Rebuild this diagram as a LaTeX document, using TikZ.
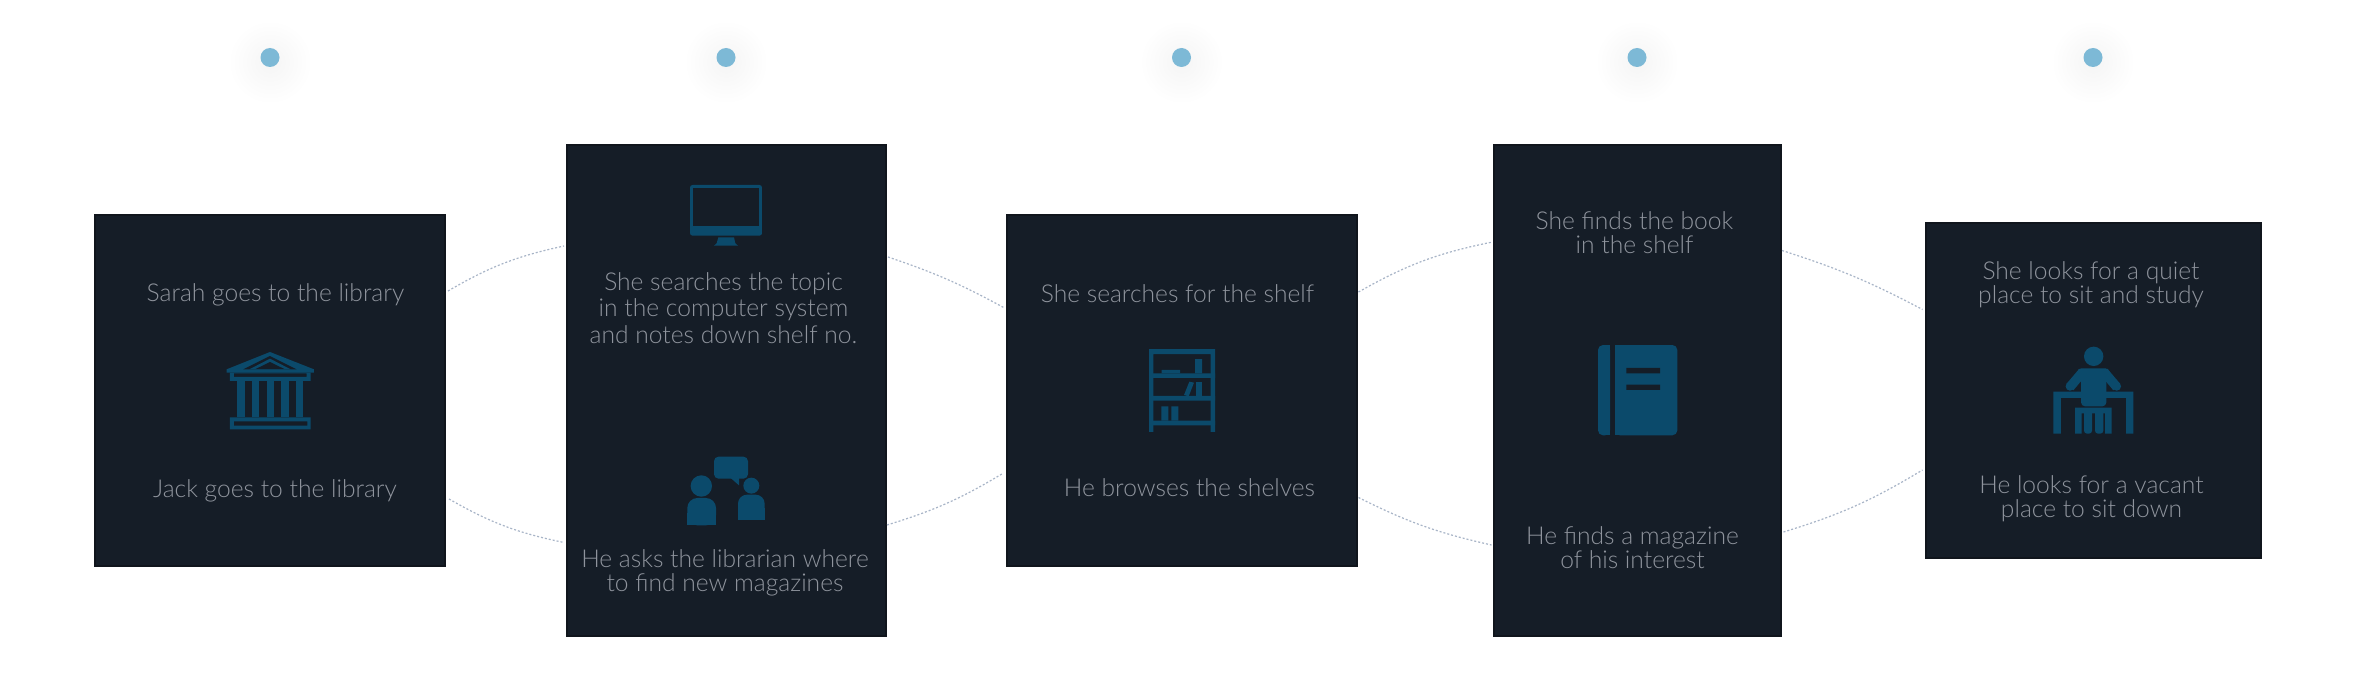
\documentclass[tikz,border=0pt]{standalone}
\usepackage{fontspec}
\setmainfont{Lato Light}
\definecolor{boxfill}{HTML}{151D27}
\definecolor{boxedge}{HTML}{10151C}
\definecolor{icon}{HTML}{0B4A6B}
\definecolor{dotc}{HTML}{7DB9D6}
\definecolor{linkc}{HTML}{A8B5C7}
\definecolor{txt}{HTML}{8F949D}
\tikzset{
  panel/.style={draw=boxedge,line width=2pt,fill=boxfill,inner sep=0pt,outer sep=1pt,rectangle},
  lbl/.style={text=txt,align=center,inner sep=0pt,font=\fontsize{24.6}{24}\selectfont},
  lblb/.style={text=txt,align=center,inner sep=0pt,font=\fontsize{24.6}{26.5}\selectfont},
  link/.style={draw=linkc,line width=1.2pt,dash pattern=on 2pt off 2pt},
  glow/.style={inner color=black!4,outer color=white,draw=none},
  dotn/.style={circle,fill=dotc,draw=none,minimum size=19pt,inner sep=0pt},
  zoomed/.style={x=0.3333pt,y=-0.3333pt},
}
\newcommand{\panelbox}[5]{\node[panel,minimum width=#4-#2-2pt,minimum height=#5-#3-2pt] (#1) at ({(#2+#4)/2},{(#3+#5)/2}) {};}
\begin{document}
\begin{tikzpicture}[x=1pt,y=-1pt]
\useasboundingbox (0,0) rectangle (2363,674);
\fill[white] (0,0) rectangle (2363,674);
% glow + dots
\foreach \n/\cx in {d1/270,d2/726,d3/1181.5,d4/1637,d5/2093}{
  \shade[glow] (\cx,62) circle (42pt);
  \node[dotn] (\n) at (\cx,57.5) {};
}
% panels
\panelbox{b1}{94}{214}{446}{567}
\panelbox{b2}{566}{144}{887}{637}
\panelbox{b3}{1005.5}{214}{1358}{567}
\panelbox{b4}{1493}{144}{1782}{637}
\panelbox{b5}{1925}{222}{2262}{559}
% link ends
\coordinate (c1a) at (448,291); \coordinate (c1b) at (564,246);
\coordinate (c2a) at (449,499); \coordinate (c2b) at (564,542.5);
\coordinate (c3a) at (888,257); \coordinate (c3b) at (1004.5,308);
\coordinate (c4a) at (887,525); \coordinate (c4b) at (1003.5,473);
\coordinate (c5a) at (1358.5,292); \coordinate (c5b) at (1492.5,242);
\coordinate (c6a) at (1358.5,497.5); \coordinate (c6b) at (1491.5,545);
\coordinate (c7a) at (1782,250.5); \coordinate (c7b) at (1922.5,309.5);
\coordinate (c8a) at (1783.5,532); \coordinate (c8b) at (1922.5,470);
\draw[link] (c1a) to[bend left=9] (c1b);
\draw[link] (c2a) to[bend right=9] (c2b);
\draw[link] (c3a) to[bend left=5] (c3b);
\draw[link] (c4a) to[bend right=7] (c4b);
\draw[link] (c5a) to[bend left=9] (c5b);
\draw[link] (c6a) to[bend right=7] (c6b);
\draw[link] (c7a) to[bend left=5] (c7b);
\draw[link] (c8a) to[bend right=7] (c8b);
% labels
\node[lbl] (t1) at (275.5,295) {Sarah goes to the library};
\node[lbl] (t2) at (275,491) {Jack goes to the library};
\node[lblb] (t3) at (723.5,308) {She searches the topic\\in the computer system\\and notes down shelf no.};
\node[lbl] (t4) at (725,572.5) {He asks the librarian where\\to find new magazines};
\node[lbl] (t5) at (1177.5,293.5) {She searches for the shelf};
\node[lbl] (t6) at (1189.5,487.5) {He browses the shelves};
\node[lbl] (t7) at (1634.5,232.5) {She finds the book\\in the shelf};
\node[lbl] (t8) at (1632.5,547.5) {He finds a magazine\\of his interest};
\node[lbl] (t9) at (2091,285) {She looks for a quiet\\place to sit and study};
\node[lbl] (t10) at (2091.5,499) {He looks for a vacant\\place to sit down};
% library icon
\begin{scope}[shift={(200,330)},zoomed]
  \fill[icon] (210,66)--(342,118)--(342,128)--(80,128)--(80,118)--cycle;
  \fill[boxfill] (210,78)--(290,118)--(130,118)--cycle;
  \fill[icon] (210,86)--(272,118)--(148,118)--cycle;
  \fill[boxfill] (210,96)--(253,117)--(167,117)--cycle;
  \fill[icon,even odd rule] (90,128) rectangle (332,153) (102,130) rectangle (320,141);
  \foreach \a in {112,156,200,244,288} \fill[icon] (\a,153) rectangle (\a+22,262);
  \fill[icon,even odd rule] (90,262) rectangle (332,298) (102,274) rectangle (322,287);
\end{scope}
% monitor icon
\begin{scope}[shift={(660,160)},zoomed]
  \fill[icon,rounded corners=2.5pt] (90,75) rectangle (306,227);
  \fill[boxfill] (99,85) rectangle (298,198);
  \fill[icon] (175,232)--(222,232)--(226,250)--(234,257)--(162,257)--(170,250)--cycle;
\end{scope}
% people icon
\begin{scope}[shift={(670,440)},zoomed]
  \fill[icon] (94,138) circle (10.7pt);
  \fill[icon,rounded corners=10pt] (52,256)--(52,174)--(138,174)--(138,256)--cycle;
  \fill[icon] (52,256) rectangle (138,220);
  \fill[icon] (244,137) circle (8pt);
  \fill[icon,rounded corners=9pt] (204,240)--(204,164)--(284,164)--(284,240)--cycle;
  \fill[icon] (204,240) rectangle (284,205);
  \fill[icon,rounded corners=4.5pt] (132,50) rectangle (234,116);
  \fill[icon] (182,114)--(207,136)--(207,114)--cycle;
\end{scope}
% shelf icon
\begin{scope}[shift={(1130,335)},zoomed]
  \fill[icon] (57,42) rectangle (70,291) (242,42) rectangle (255,291) (57,42) rectangle (255,57);
  \fill[icon] (57,115) rectangle (255,129) (57,183) rectangle (255,197) (57,257) rectangle (255,271);
  \fill[icon] (95,105) rectangle (150,115) (195,72) rectangle (216,115);
  \fill[icon] (178,140)--(192,143)--(176,184)--(162,180)--cycle;
  \fill[icon] (197,140) rectangle (216,183);
  \fill[icon] (94,214) rectangle (115,257) (124,214) rectangle (145,257);
\end{scope}
% book icon
\begin{scope}[shift={(1580,330)},zoomed]
  \fill[icon,rounded corners=5pt] (90,45)--(54,45)--(54,316)--(90,316)--cycle;
  \fill[icon] (75,45) rectangle (90,316);
  \fill[icon,rounded corners=5pt] (105,45)--(292,45)--(292,316)--(105,316)--cycle;
  \fill[icon] (105,45) rectangle (125,316);
  \fill[boxfill] (139,114) rectangle (240,130) (139,164) rectangle (240,180);
\end{scope}
% person at desk icon
\begin{scope}[shift={(2030,335)},zoomed]
  \fill[icon] (191,64) circle (9.7pt);
  \fill[icon] (70,170) rectangle (310,190) (70,170) rectangle (93,296) (288,170) rectangle (310,296);
  \fill[boxfill] (93,190) rectangle (288,296);
  \fill[icon,rounded corners=4pt] (142,100)--(238,100)--(238,130)--(229,130)--(229,214)--(153,214)--(153,130)--(142,130)--cycle;
  \fill[icon] (148,101)--(109,147)--(130,166)--(160,130)--cycle;
  \fill[icon] (232,101)--(271,147)--(250,166)--(220,130)--cycle;
  \fill[icon] (120,154) circle (4.4pt) (260,154) circle (4.4pt);
  \fill[icon] (135,218) rectangle (245,235) (135,218) rectangle (155,296) (225,218) rectangle (245,296);
  \fill[icon,rounded corners=3pt] (162,225)--(186,225)--(186,296)--(162,296)--cycle;
  \fill[icon,rounded corners=3pt] (195,225)--(220,225)--(220,296)--(195,296)--cycle;
\end{scope}
\end{tikzpicture}
\end{document}
